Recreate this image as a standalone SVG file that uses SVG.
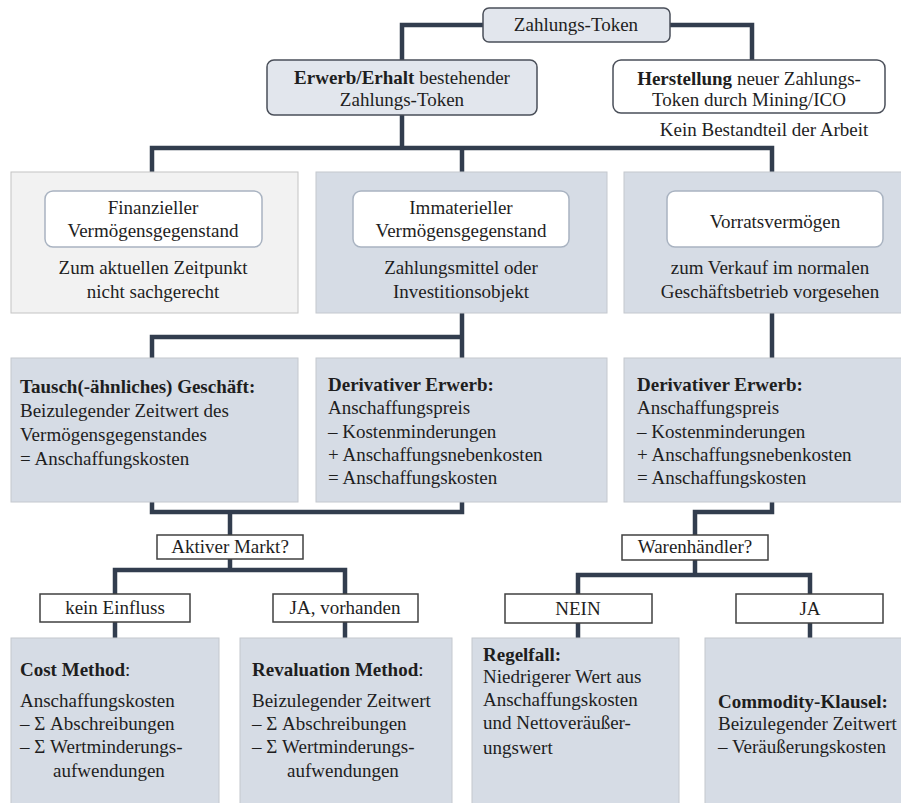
<svg xmlns="http://www.w3.org/2000/svg" width="901" height="803" viewBox="0 0 901 803" font-family="'Liberation Serif', Tinos, 'Noto Serif', 'DejaVu Serif', 'Nimbus Roman', FreeSerif, Times, serif" font-size="19">
<style>
text{font-family:'Liberation Serif',Tinos,'Noto Serif','DejaVu Serif','Nimbus Roman',FreeSerif,Times,serif;font-size:19px;fill:#1e1e1e}
.c{text-anchor:middle}
.panel{fill:#d6dce5;stroke:#c4c8ce;stroke-width:1}
.grey{fill:#f2f2f2;stroke:#c4c4c4;stroke-width:1}
.inner{fill:#ffffff;stroke:#a9b3c1;stroke-width:1.5}
.head{fill:#e2e6ed;stroke:#4a4f59;stroke-width:1.5}
.white{fill:#ffffff;stroke:#4a4f59;stroke-width:1.5}
.dec{fill:#ffffff;stroke:#404040;stroke-width:1.5}
.con{fill:none;stroke:#323d4e;stroke-width:4.5;stroke-linejoin:miter;stroke-linecap:butt}
</style>
<rect width="901" height="803" fill="#ffffff"/>
<g id="connectors">
<path class="con" d="M483,25 H402 V60"/>
<path class="con" d="M670,25 H752 V60"/>
<path class="con" d="M402,115 V148"/>
<path class="con" d="M152,172 V148 H772 V172"/>
<path class="con" d="M462,148 V172"/>
<path class="con" d="M462,313 V358"/>
<path class="con" d="M152,358 V337 H462"/>
<path class="con" d="M772,313 V358"/>
<path class="con" d="M152,502 V512 H462 V502"/>
<path class="con" d="M230,512 V535"/>
<path class="con" d="M772,502 V512 H695 V535"/>
<path class="con" d="M230,559 V570"/>
<path class="con" d="M115,594 V570 H345 V594"/>
<path class="con" d="M115,622 V638"/>
<path class="con" d="M345,622 V638"/>
<path class="con" d="M695,560 V575"/>
<path class="con" d="M578,594 V575 H810 V594"/>
<path class="con" d="M578,623 V638"/>
<path class="con" d="M810,623 V638"/>
</g>
<g id="zahlungs-token">
<rect class="head" x="483" y="8" width="187" height="34" rx="6"/>
<text class="c" x="576" y="31">Zahlungs-Token</text>
</g>
<g id="erwerb">
<rect class="head" x="267" y="60" width="270" height="55" rx="7"/>
<text class="c" x="402" y="84"><tspan font-weight="bold">Erwerb/Erhalt</tspan> bestehender</text>
<text class="c" x="402" y="106">Zahlungs-Token</text>
</g>
<g id="herstellung">
<rect class="white" x="613" y="60" width="272" height="53" rx="8"/>
<text class="c" x="749" y="85"><tspan font-weight="bold">Herstellung</tspan> neuer Zahlungs-</text>
<text class="c" x="749" y="106">Token durch Mining/ICO</text>
<text class="c" x="764" y="136">Kein Bestandteil der Arbeit</text>
</g>
<g id="finanziell">
<rect class="grey" x="11" y="172" width="287" height="141"/>
<rect class="inner" x="45" y="191" width="217" height="56" rx="8"/>
<text class="c" x="153" y="214">Finanzieller</text>
<text class="c" x="153" y="237">Vermögensgegenstand</text>
<text class="c" x="153" y="274">Zum aktuellen Zeitpunkt</text>
<text class="c" x="153" y="298">nicht sachgerecht</text>
</g>
<g id="immateriell">
<rect class="panel" x="316" y="172" width="291" height="141"/>
<rect class="inner" x="353" y="191" width="216" height="56" rx="8"/>
<text class="c" x="461" y="214">Immaterieller</text>
<text class="c" x="461" y="237">Vermögensgegenstand</text>
<text class="c" x="461" y="274">Zahlungsmittel oder</text>
<text class="c" x="461" y="298">Investitionsobjekt</text>
</g>
<g id="vorrat">
<rect class="panel" x="624" y="172" width="280" height="141"/>
<rect class="inner" x="667" y="191" width="216" height="56" rx="8"/>
<text class="c" x="775" y="228">Vorratsvermögen</text>
<text class="c" x="770" y="274">zum Verkauf im normalen</text>
<text class="c" x="770" y="298">Geschäftsbetrieb vorgesehen</text>
</g>
<g id="tausch">
<rect class="panel" x="11" y="358" width="287" height="144"/>
<text x="20" y="393" font-weight="bold">Tausch(-ähnliches) Geschäft:</text>
<text x="20" y="417">Beizulegender Zeitwert des</text>
<text x="20" y="441">Vermögensgegenstandes</text>
<text x="20" y="465">= Anschaffungskosten</text>
</g>
<g id="derivativ-immateriell">
<rect class="panel" x="316" y="358" width="291" height="144"/>
<text x="328" y="391" font-weight="bold">Derivativer Erwerb:</text>
<text x="328" y="414">Anschaffungspreis</text>
<text x="328" y="438">– Kostenminderungen</text>
<text x="328" y="461">+ Anschaffungsnebenkosten</text>
<text x="328" y="484">= Anschaffungskosten</text>
</g>
<g id="derivativ-vorrat">
<rect class="panel" x="624" y="358" width="280" height="144"/>
<text x="637" y="391" font-weight="bold">Derivativer Erwerb:</text>
<text x="637" y="414">Anschaffungspreis</text>
<text x="637" y="438">– Kostenminderungen</text>
<text x="637" y="461">+ Anschaffungsnebenkosten</text>
<text x="637" y="484">= Anschaffungskosten</text>
</g>
<g id="aktiver-markt">
<rect class="dec" x="157" y="535" width="146" height="24"/>
<text class="c" x="230" y="553">Aktiver Markt?</text>
</g>
<g id="warenhaendler">
<rect class="dec" x="622" y="535" width="146" height="25"/>
<text class="c" x="695" y="553">Warenhändler?</text>
</g>
<g id="kein-einfluss">
<rect class="dec" x="40" y="594" width="150" height="28"/>
<text class="c" x="115" y="614">kein Einfluss</text>
</g>
<g id="ja-vorhanden">
<rect class="dec" x="273" y="594" width="145" height="28"/>
<text class="c" x="345" y="614">JA, vorhanden</text>
</g>
<g id="nein">
<rect class="dec" x="505" y="594" width="147" height="29"/>
<text class="c" x="578" y="615">NEIN</text>
</g>
<g id="ja">
<rect class="dec" x="736" y="594" width="147" height="29"/>
<text class="c" x="810" y="615">JA</text>
</g>
<g id="cost-method">
<rect class="panel" x="11" y="638" width="208" height="170"/>
<text x="20" y="676"><tspan font-weight="bold">Cost Method</tspan>:</text>
<text x="20" y="707">Anschaffungskosten</text>
<text x="20" y="730">– Σ Abschreibungen</text>
<text x="20" y="753">– Σ Wertminderungs-</text>
<text x="53" y="777">aufwendungen</text>
</g>
<g id="revaluation-method">
<rect class="panel" x="240" y="638" width="212" height="170"/>
<text x="252" y="676"><tspan font-weight="bold">Revaluation Method</tspan>:</text>
<text x="252" y="707">Beizulegender Zeitwert</text>
<text x="252" y="730">– Σ Abschreibungen</text>
<text x="252" y="753">– Σ Wertminderungs-</text>
<text x="287" y="777">aufwendungen</text>
</g>
<g id="regelfall">
<rect class="panel" x="472" y="638" width="207" height="170"/>
<text x="483" y="661" font-weight="bold">Regelfall:</text>
<text x="483" y="683">Niedrigerer Wert aus</text>
<text x="483" y="706">Anschaffungskosten</text>
<text x="483" y="729">und Nettoveräußer-</text>
<text x="483" y="754">ungswert</text>
</g>
<g id="commodity">
<rect class="panel" x="705" y="638" width="200" height="170"/>
<text x="718" y="708" font-weight="bold">Commodity-Klausel:</text>
<text x="718" y="730">Beizulegender Zeitwert</text>
<text x="718" y="753">– Veräußerungskosten</text>
</g>
</svg>
